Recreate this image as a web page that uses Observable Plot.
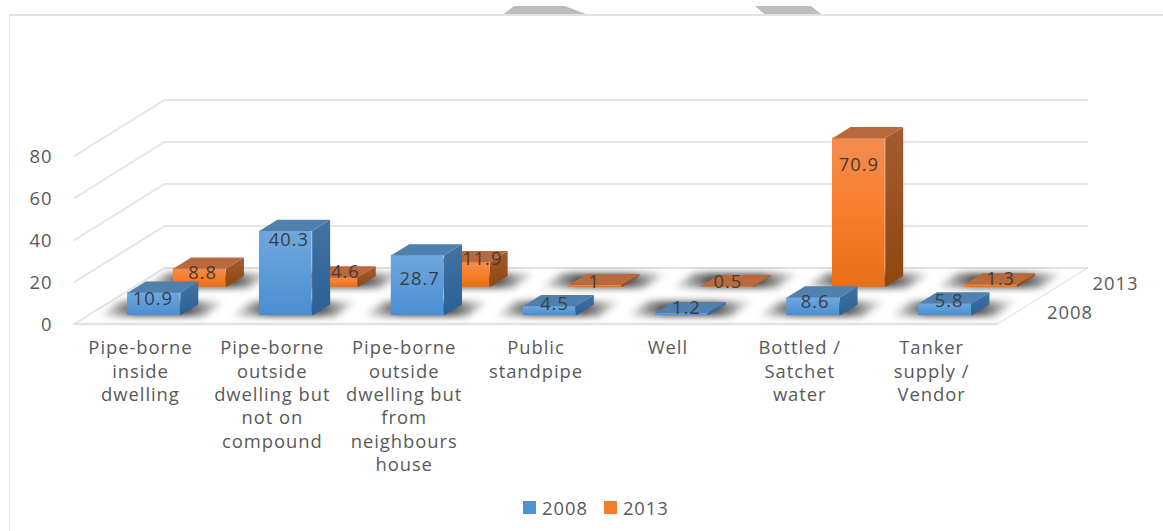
<!DOCTYPE html>
<html>
<head>
<meta charset="utf-8">
<script src="https://cdn.jsdelivr.net/npm/d3@7"></script>
<script src="https://cdn.jsdelivr.net/npm/@observablehq/plot@0.6"></script>
<style>
  html, body { margin: 0; padding: 0; background: #fff; width: 1163px; height: 531px; overflow: hidden; }
  #page { position: relative; width: 1163px; height: 531px; font-family: "Open Sans", sans-serif; }
  #frame { position: absolute; left: 9px; top: 14px; right: 0; bottom: 0; border-top: 2px solid #e2e2e2; border-left: 1.5px solid #e2e2e2; }
  .tab { position: absolute; top: 6px; height: 8px; background: #bdbdbd; }
  #tabA { left: 504px; width: 82px; clip-path: polygon(12% 0, 74% 0, 100% 100%, 0 100%); }
  #tabB { left: 755px; width: 66px; clip-path: polygon(0 0, 85% 0, 100% 100%, 14% 100%); }
  #legend { position: absolute; left: 523px; top: 495px; }
  #legend svg { margin-right: 6px; }
  #legend [class$="-swatch"] { margin-right: 16px; }
</style>
</head>
<body>
<div id="page">
  <div id="chart"></div>
  <div id="frame"></div>
  <div class="tab" id="tabA"></div>
  <div class="tab" id="tabB"></div>
  <div id="legend"></div>
</div>
<script>
// Household drinking-water sources, 2008 and 2013 survey rounds (%).
const categories = [
  "Pipe-borne\ninside\ndwelling",
  "Pipe-borne\noutside\ndwelling but\nnot on\ncompound",
  "Pipe-borne\noutside\ndwelling but\nfrom\nneighbours\nhouse",
  "Public\nstandpipe",
  "Well",
  "Bottled /\nSatchet\nwater",
  "Tanker\nsupply /\nVendor"
];
const values2008 = [10.9, 40.3, 28.7, 4.5, 1.2, 8.6, 5.8];
const values2013 = [8.8, 4.6, 11.9, 1, 0.5, 70.9, 1.3];
const valueTicks = [0, 20, 40, 60, 80];
const seriesNames = ["2008", "2013"];

// Oblique projection: depth d (0 front, 1 back) shifts a point right and up,
// expressed in category units and value units.
const depthX = 0.6825;
const depthY = 26.67;
const px = (c, d) => c + d * depthX;
const py = (v, d) => v + d * depthY;

const textSize = 18.4;
const textSpacing = ".95px";

// Bar footprint inside its category slot and inside the depth axis.
const barFrom = 0.3, barTo = 0.7, barDepth = 0.2;
const rows = [
  {name: "2008", near: 0.15, values: values2008, nudge: [[-1,6],[3,9.6],[2,24],[5,-2.5],[5,-4.5],[2,5],[4,-2]]},
  {name: "2013", near: 0.657, values: values2013, nudge: [[3,4.5],[14,-5],[19,-3],[-1,-3],[1,-4],[0,27],[10,-5]]}
];
const palette = {
  "2008": {top: "#4f80ae", label: "#3a3f45"},
  "2013": {top: "#b96a3d", label: "#4a3a30"}
};

const polygon = (id, pts) => pts.map(([c, d, v]) => ({id, x: px(c, d), y: py(v, d)}));

function barParts(row) {
  const n = row.near, f = n + barDepth;
  const front = [], side = [], top = [], shadow = [], labels = [];
  row.values.forEach((v, i) => {
    const a = i + barFrom, b = i + barTo;
    front.push({x1: px(a, n), x2: px(b, n), y1: py(0, n), y2: py(v, n)});
    side.push(...polygon(i, [[b, n, 0], [b, f, 0], [b, f, v], [b, n, v]]));
    top.push(...polygon(i, [[a, n, v], [b, n, v], [b, f, v], [a, f, v]]));
    shadow.push(...polygon(i, [[i + 0.08, n - 0.01, 0], [i + 0.88, n - 0.01, 0], [i + 0.88, f + 0.05, 0], [i + 0.08, f + 0.05, 0]]));
    labels.push({
      text: String(v),
      x: px(i + 0.5, n),
      y: py(v, n),
      dx: row.nudge[i][0],
      dy: row.nudge[i][1]
    });
  });
  return {front, side, top, shadow, labels};
}

function barMarks(row) {
  const p = barParts(row);
  const s = row.name;
  return [
    Plot.rect(p.front, {x1: "x1", x2: "x2", y1: "y1", y2: "y2", fill: `url(#front${s})`}),
    Plot.line(p.side, {x: "x", y: "y", z: "id", fill: `url(#side${s})`, stroke: "none"}),
    Plot.line(p.top, {x: "x", y: "y", z: "id", fill: palette[s].top, stroke: "none"}),
    Plot.text(p.labels, {
      x: "x", y: "y", text: "text",
      // Each label keeps its own small offset from the top edge of the front face.
      render(index, scales, values, dimensions, context, next) {
        const dxs = p.labels.map(d => d.dx), dys = p.labels.map(d => d.dy);
        const shifted = {...values,
          x: Float64Array.from(values.x, (x, i) => x + dxs[i]),
          y: Float64Array.from(values.y, (y, i) => y + dys[i])};
        return next(index, scales, shifted, dimensions, context);
      },
      fontSize: textSize, fill: palette[s].label, textAnchor: "middle", lineAnchor: "middle"
    })
  ];
}

const wallLines = valueTicks.flatMap(v => polygon(v, [[0, 0, v], [0, 1, v], [7, 1, v]]));
const floorFront = polygon("front", [[0, 0, 0], [7, 0, 0]]);
const floorRight = polygon("right", [[7, 0, 0], [7, 1, 0]]);
const allShadows = rows.flatMap(r => barParts(r).shadow.map(d => ({...d, id: r.name + d.id})));
const categoryRows = categories.map((label, i) => ({label, x: i + 0.5}));
const depthLabels = rows.map(r => ({label: r.name, x: px(7, r.near + barDepth / 2), y: py(0, r.near + barDepth / 2)}));

const chart = Plot.plot({
  width: 1163,
  height: 480,
  marginLeft: 52,
  marginTop: 0,
  marginRight: 0,
  marginBottom: 0,
  x: {domain: [0, 7], range: [74, 997], axis: null},
  y: {domain: [0, 80], range: [323.5, 155.5]},
  style: {fontFamily: '"Open Sans", sans-serif', background: "transparent", letterSpacing: textSpacing},
  marks: [
    Plot.line(wallLines, {x: "x", y: "y", z: "id", stroke: "#e4e4e4", strokeWidth: 2}),
    Plot.line(floorFront, {x: "x", y: "y", z: "id", stroke: "#e2e2e2", strokeWidth: 2.5}),
    Plot.line(floorRight, {x: "x", y: "y", z: "id", stroke: "#dcdcdc", strokeWidth: 1}),
    Plot.line(allShadows, {x: "x", y: "y", z: "id", fill: "url(#floorShadow)", stroke: "none", imageFilter: "blur(3.5px)"}),
    ...barMarks(rows[1]),
    ...barMarks(rows[0]),
    Plot.axisY({ticks: valueTicks, tickSize: 0, tickPadding: 0, label: null, fontSize: textSize, color: "#595959", dy: 1.5}),
    Plot.text(categoryRows, {
      x: "x", y: () => -6.5, text: "label",
      fontSize: textSize, lineHeight: 1.268, lineAnchor: "top", textAnchor: "middle", fill: "#595959"
    }),
    Plot.text(depthLabels, {
      x: "x", y: "y", text: "label", dx: 27, dy: 3,
      fontSize: textSize, textAnchor: "start", lineAnchor: "middle", fill: "#595959"
    })
  ]
});

// Gradients used by the bar faces and floor shadows.
const defs = d3.select(chart).append("defs");
function gradient(id, stops, horizontal) {
  const g = defs.append("linearGradient").attr("id", id)
    .attr("x1", 0).attr("y1", 0)
    .attr("x2", horizontal ? 1 : 0).attr("y2", horizontal ? 0 : 1);
  stops.forEach(([o, c, a]) => g.append("stop").attr("offset", o).attr("stop-color", c).attr("stop-opacity", a ?? 1));
}
gradient("front2008", [[0, "#6fa8de"], [1, "#4a8ed2"]]);
gradient("front2013", [[0, "#f28c52"], [0.45, "#f8802f"], [1, "#e86f16"]]);
gradient("side2008", [[0, "#4274a3"], [1, "#2a6097"]]);
gradient("side2013", [[0, "#a65b30"], [1, "#8f470e"]]);
gradient("floorShadow", [[0, "#333", 0], [0.3, "#333", 0.85], [0.7, "#333", 0.85], [1, "#333", 0]], true);

document.getElementById("chart").append(chart);

document.getElementById("legend").append(Plot.legend({
  color: {domain: seriesNames, range: ["#4f93d6", "#f57c28"]},
  legend: "swatches",
  swatchSize: 13,
  style: {fontSize: textSize + "px", fontFamily: '"Open Sans", sans-serif', color: "#595959", letterSpacing: textSpacing, margin: 0, minHeight: "24px"}
}));
</script>
</body>
</html>
